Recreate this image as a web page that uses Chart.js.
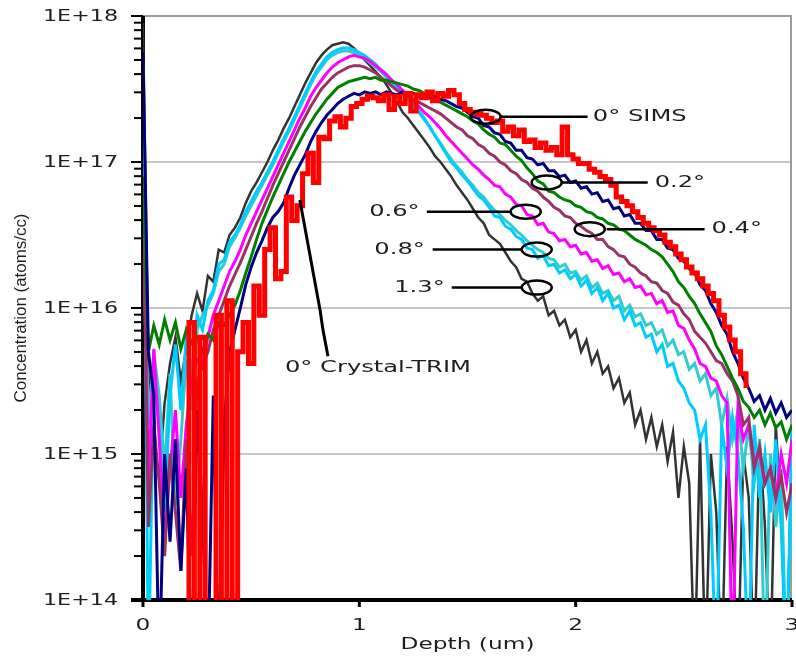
<!DOCTYPE html>
<html>
<head>
<meta charset="utf-8">
<title>Concentration profiles vs tilt angle</title>
<script src="https://cdn.jsdelivr.net/npm/chart.js@4.4.1/dist/chart.umd.min.js"></script>
<style>
  html, body { margin: 0; padding: 0; background: #fff; }
  #wrap { width: 796px; height: 658px; }
</style>
</head>
<body>
<div id="wrap"><canvas id="chart" width="796" height="658"></canvas></div>
<script>
// depth grid (um)
const depth = [
  0, 0.025, 0.05, 0.075, 0.1, 0.125, 0.15, 0.175, 0.2, 0.225,
  0.25, 0.275, 0.3, 0.325, 0.35, 0.375, 0.4, 0.425, 0.45, 0.475,
  0.5, 0.525, 0.55, 0.575, 0.6, 0.625, 0.65, 0.675, 0.7, 0.725,
  0.75, 0.775, 0.8, 0.825, 0.85, 0.875, 0.9, 0.925, 0.95, 0.975,
  1, 1.025, 1.05, 1.075, 1.1, 1.125, 1.15, 1.175, 1.2, 1.225,
  1.25, 1.275, 1.3, 1.325, 1.35, 1.375, 1.4, 1.425, 1.45, 1.475,
  1.5, 1.525, 1.55, 1.575, 1.6, 1.625, 1.65, 1.675, 1.7, 1.725,
  1.75, 1.775, 1.8, 1.825, 1.85, 1.875, 1.9, 1.925, 1.95, 1.975,
  2, 2.025, 2.05, 2.075, 2.1, 2.125, 2.15, 2.175, 2.2, 2.225,
  2.25, 2.275, 2.3, 2.325, 2.35, 2.375, 2.4, 2.425, 2.45, 2.475,
  2.5, 2.525, 2.55, 2.575, 2.6, 2.625, 2.65, 2.675, 2.7, 2.725,
  2.75, 2.775, 2.8, 2.825, 2.85, 2.875, 2.9, 2.925, 2.95, 2.975,
  3
];

// log10 of concentration (atoms/cc), null = no data
const sims0 = [
  null, null, null, null, null, null, null, null, 13.0, 15.90,
  13.0, 15.80, 13.0, 13.0, 15.95, 13.0, 16.05, 13.0, 15.70, 15.90,
  15.62, 16.15, 15.95, 16.40, 16.55, 16.20, 16.25, 16.76, 16.60, 16.70,
  16.92, 17.06, 16.86, 17.17, 17.16, 17.28, 17.31, 17.24, 17.30, 17.38,
  17.40, 17.43, 17.45, 17.44, 17.42, 17.46, 17.36, 17.45, 17.40, 17.47,
  17.35, 17.46, 17.44, 17.48, 17.42, 17.47, 17.45, 17.49, 17.46, 17.40,
  17.36, 17.34, 17.33, 17.32, 17.30, 17.27, 17.28, 17.21, 17.24, 17.18,
  17.22, 17.14, 17.15, 17.10, 17.13, 17.08, 17.10, 17.05, 17.24, 17.05,
  17.02, 16.99, 16.99, 16.95, 16.93, 16.90, 16.88, 16.84, 16.76, 16.73,
  16.70, 16.66, 16.62, 16.58, 16.55, 16.53, 16.50, 16.45, 16.42, 16.37,
  16.33, 16.28, 16.24, 16.20, 16.15, 16.10, 16.05, 15.95, 15.87, 15.78,
  15.70, 15.55, 15.47, null, null, null, null, null, null, null,
  null
];
const trim0 = [
  17.75, 15.70, 15.40, 13.5, 15.00, 14.40, 15.10, 14.20, 14.90, 13.5,
  15.30, 14.60, 13.5, 15.40, 13.5, 15.20, 15.70, 15.85, 16.00, 16.16,
  16.28, 16.38, 16.46, 16.55, 16.62, 16.66, 16.72, 16.82, 16.91, 16.98,
  17.05, 17.14, 17.21, 17.27, 17.32, 17.36, 17.40, 17.43, 17.45, 17.47,
  17.46, 17.48, 17.47, 17.48, 17.46, 17.48, 17.47, 17.46, 17.48, 17.46,
  17.47, 17.45, 17.46, 17.44, 17.45, 17.43, 17.42, 17.40, 17.38, 17.37,
  17.34, 17.31, 17.30, 17.25, 17.24, 17.20, 17.19, 17.14, 17.13, 17.08,
  17.08, 17.03, 17.02, 16.98, 16.99, 16.94, 16.94, 16.90, 16.91, 16.86,
  16.87, 16.82, 16.83, 16.78, 16.79, 16.73, 16.74, 16.68, 16.69, 16.63,
  16.64, 16.58, 16.58, 16.53, 16.53, 16.47, 16.47, 16.41, 16.40, 16.34,
  16.32, 16.27, 16.24, 16.16, 16.12, 16.03, 15.97, 15.88, 15.82, 15.70,
  15.62, 15.52, 15.45, 15.36, 15.40, 15.30, 15.38, 15.28, 15.35, 15.25,
  15.30
];
const deg02 = [
  16.90, 15.70, 15.88, 15.75, 15.92, 15.78, 15.90, 15.72, 15.85, 15.76,
  15.80, 15.70, 15.82, 15.78, 15.90, 15.88, 15.95, 16.02, 16.12, 16.24,
  16.35, 16.47, 16.58, 16.67, 16.76, 16.84, 16.92, 17.00, 17.07, 17.14,
  17.21, 17.27, 17.33, 17.38, 17.43, 17.47, 17.51, 17.53, 17.55, 17.56,
  17.57, 17.58, 17.57, 17.58, 17.56, 17.56, 17.55, 17.54, 17.53, 17.52,
  17.50, 17.49, 17.47, 17.46, 17.43, 17.41, 17.39, 17.37, 17.35, 17.33,
  17.31, 17.28, 17.26, 17.22, 17.19, 17.17, 17.13, 17.12, 17.08, 17.04,
  17.01, 16.96, 16.92, 16.87, 16.85, 16.80, 16.79, 16.76, 16.74, 16.73,
  16.70, 16.69, 16.66, 16.65, 16.62, 16.61, 16.58, 16.57, 16.54, 16.53,
  16.50, 16.47, 16.45, 16.43, 16.40, 16.38, 16.35, 16.30, 16.25, 16.18,
  16.14, 16.08, 16.03, 15.96, 15.90, 15.84, 15.74, 15.68, 15.60, 15.52,
  15.45, 15.36, 15.32, 15.25, 15.30, 15.20, 15.28, 15.18, 15.22, 15.10,
  15.20
];
const deg04 = [
  16.90, 14.50, 15.20, 14.80, 14.30, 15.00, 14.60, 14.20, 15.10, 14.30,
  15.50, 15.60, 15.70, 15.85, 15.95, 16.05, 16.15, 16.23, 16.31, 16.40,
  16.49, 16.58, 16.66, 16.75, 16.84, 16.92, 17.00, 17.08, 17.16, 17.24,
  17.31, 17.38, 17.44, 17.50, 17.54, 17.58, 17.61, 17.63, 17.65, 17.66,
  17.66, 17.65, 17.63, 17.61, 17.58, 17.55, 17.52, 17.49, 17.47, 17.45,
  17.43, 17.41, 17.39, 17.37, 17.35, 17.33, 17.30, 17.27, 17.24, 17.22,
  17.18, 17.16, 17.12, 17.10, 17.06, 17.04, 17.00, 16.98, 16.94, 16.92,
  16.88, 16.86, 16.82, 16.80, 16.76, 16.73, 16.69, 16.67, 16.63, 16.62,
  16.58, 16.56, 16.53, 16.51, 16.47, 16.47, 16.42, 16.40, 16.36, 16.35,
  16.30, 16.28, 16.24, 16.22, 16.18, 16.17, 16.12, 16.10, 16.04, 16.02,
  15.96, 15.92, 15.84, 15.80, 15.76, 15.70, 15.64, 15.62, 15.55, 15.50,
  15.40, 15.20, 15.25, 14.90, 15.05, 14.80, 14.90, 14.70, 14.85, 14.60,
  14.80
];
const deg06 = [
  16.80, 14.80, 15.72, 15.10, 14.40, 14.90, 15.30, 14.70, 15.20, 15.50,
  15.65, 15.62, 15.80, 15.95, 16.05, 16.15, 16.25, 16.32, 16.40, 16.50,
  16.58, 16.66, 16.74, 16.82, 16.90, 16.98, 17.06, 17.14, 17.22, 17.30,
  17.37, 17.45, 17.51, 17.56, 17.61, 17.65, 17.68, 17.70, 17.72, 17.73,
  17.72, 17.71, 17.69, 17.66, 17.63, 17.60, 17.56, 17.53, 17.49, 17.46,
  17.42, 17.38, 17.34, 17.31, 17.27, 17.23, 17.18, 17.14, 17.10, 17.06,
  17.02, 16.98, 16.95, 16.91, 16.88, 16.84, 16.83, 16.78, 16.76, 16.71,
  16.70, 16.64, 16.63, 16.57, 16.58, 16.52, 16.51, 16.46, 16.47, 16.42,
  16.43, 16.37, 16.38, 16.32, 16.33, 16.27, 16.29, 16.23, 16.24, 16.18,
  16.20, 16.14, 16.15, 16.09, 16.10, 16.03, 16.05, 15.97, 15.98, 15.88,
  15.86, 15.78, 15.72, 15.62, 15.60, 15.52, 15.50, 15.40, 15.35, 13.50,
  15.30, 15.10, 15.20, 14.95, 15.00, 14.80, 14.90, 14.70, 15.00, 14.80,
  15.10
];
const deg08 = [
  17.65, 13.50, 15.55, 15.20, 14.60, 15.40, 15.75, 15.30, 15.80, 15.55,
  15.95, 15.85, 16.05, 16.12, 16.30, 16.33, 16.45, 16.50, 16.57, 16.66,
  16.73, 16.80, 16.86, 16.93, 17.00, 17.08, 17.16, 17.23, 17.31, 17.39,
  17.47, 17.55, 17.62, 17.67, 17.72, 17.75, 17.77, 17.78, 17.78, 17.77,
  17.75, 17.73, 17.70, 17.67, 17.63, 17.59, 17.55, 17.51, 17.48, 17.44,
  17.40, 17.35, 17.30, 17.24, 17.18, 17.12, 17.06, 17.00, 16.96, 16.91,
  16.87, 16.82, 16.77, 16.74, 16.69, 16.63, 16.62, 16.56, 16.54, 16.49,
  16.47, 16.41, 16.40, 16.34, 16.36, 16.29, 16.30, 16.24, 16.26, 16.20,
  16.23, 16.15, 16.19, 16.10, 16.14, 16.05, 16.10, 16.00, 16.02, 15.92,
  15.98, 15.88, 15.90, 15.80, 15.82, 15.70, 15.75, 15.60, 15.62, 15.50,
  15.45, 15.35, 15.30, 15.10, 15.20, 14.60, 13.50, 15.20, 14.90, 15.25,
  15.00, 14.50, 13.50, 15.20, 14.70, 15.00, 14.60, 15.10, 14.50, 13.50,
  15.20
];
const tealSeries = [
  16.95, 15.20, 15.70, 15.40, 14.90, 15.55, 14.65, 15.10, 15.65, 15.30,
  15.85, 15.95, 16.02, 16.10, 16.25, 16.30, 16.42, 16.48, 16.55, 16.63,
  16.70, 16.77, 16.84, 16.91, 16.98, 17.06, 17.14, 17.21, 17.29, 17.37,
  17.45, 17.53, 17.60, 17.65, 17.70, 17.73, 17.75, 17.76, 17.76, 17.75,
  17.73, 17.71, 17.68, 17.65, 17.62, 17.58, 17.54, 17.50, 17.47, 17.43,
  17.39, 17.34, 17.29, 17.24, 17.18, 17.13, 17.07, 17.02, 16.97, 16.93,
  16.88, 16.84, 16.79, 16.76, 16.71, 16.67, 16.64, 16.60, 16.57, 16.53,
  16.50, 16.46, 16.43, 16.40, 16.38, 16.34, 16.33, 16.28, 16.30, 16.24,
  16.25, 16.19, 16.22, 16.14, 16.17, 16.10, 16.12, 16.05, 16.08, 15.98,
  16.02, 15.94, 15.96, 15.88, 15.90, 15.82, 15.85, 15.74, 15.78, 15.68,
  15.70, 15.58, 15.62, 15.50, 15.55, 15.40, 15.45, 15.20, 15.38, 15.10,
  15.30, 14.90, 15.20, 14.80, 15.10, 13.50, 15.00, 14.50, 14.90, 13.50,
  14.95
];
const deg13 = [
  17.95, 15.55, 15.05, 14.85, 15.35, 15.62, 15.80, 15.50, 15.72, 15.95,
  16.10, 15.98, 16.22, 16.18, 16.40, 16.38, 16.50, 16.55, 16.62, 16.72,
  16.80, 16.86, 16.93, 17.00, 17.08, 17.15, 17.23, 17.30, 17.38, 17.46,
  17.54, 17.61, 17.68, 17.73, 17.77, 17.80, 17.81, 17.82, 17.81, 17.78,
  17.74, 17.70, 17.66, 17.62, 17.58, 17.53, 17.47, 17.41, 17.34, 17.30,
  17.25, 17.20, 17.15, 17.10, 17.04, 17.00, 16.95, 16.90, 16.84, 16.79,
  16.74, 16.68, 16.62, 16.58, 16.50, 16.47, 16.44, 16.38, 16.32, 16.28,
  16.20, 16.18, 16.10, 16.05, 16.08, 15.95, 15.98, 15.88, 15.92, 15.80,
  15.85, 15.70, 15.78, 15.62, 15.70, 15.55, 15.60, 15.45, 15.52, 15.35,
  15.42, 15.20, 15.30, 15.10, 15.25, 15.05, 15.20, 14.95, 15.15, 14.70,
  15.05, 14.80, 13.50, 15.10, 13.50, 15.00, 14.60, 13.50, 15.05, 14.40,
  13.50, 15.00, 14.70, 13.50, 15.10, 14.50, 13.50, 15.20, 14.60, 13.50,
  15.15
];

const yTickValues = [1e14, 1e15, 1e16, 1e17, 1e18];
const yTickLabels = ['1E+14', '1E+15', '1E+16', '1E+17', '1E+18'];
const minorMantissas = [2, 3, 4, 5, 6, 7, 8, 9];
const gridValues = [1e15, 1e16, 1e17];
const xTickValues = [0, 1, 2, 3];
const xTickLabels = ['0', '1', '2', '3'];

// callouts in data units: ellipse centre (depth, log10 conc), leader from/to depth, text depth
const callouts = [
  { text: '0° SIMS', ex: 1.584, ey: 17.31, x1: 1.649, x2: 2.055, tx: 2.079, align: 'left' },
  { text: '0.2°', ex: 1.866, ey: 16.86, x1: 1.935, x2: 2.333, tx: 2.365, align: 'left' },
  { text: '0.4°', ex: 2.065, ey: 16.54, x1: 2.143, x2: 2.596, tx: 2.628, align: 'left' },
  { text: '0.6°', ex: 1.769, ey: 16.66, x1: 1.700, x2: 1.312, tx: 1.279, align: 'right' },
  { text: '0.8°', ex: 1.820, ey: 16.40, x1: 1.751, x2: 1.339, tx: 1.303, align: 'right' },
  { text: '1.3°', ex: 1.820, ey: 16.14, x1: 1.751, x2: 1.427, tx: 1.395, align: 'right' }
];
const trimLeaderDepth = [0.725, 0.818, 0.832, 0.855];
const trimLeaderLog = [16.74, 15.99, 15.85, 15.67];
const trimLabel = { text: '0° Crystal-TRIM', x: 0.656, y: 15.589 };

const toPoints = vals => depth.map((d, i) => ({ x: d, y: vals[i] == null ? null : Math.pow(10, vals[i]) }));

const series = [
  { label: '0° SIMS', vals: sims0, color: '#ff0000', width: 5, stepped: 'middle' },
  { label: '0° (navy)', vals: trim0, color: '#000080', width: 3 },
  { label: '0.2°', vals: deg02, color: '#008000', width: 3 },
  { label: '0.4°', vals: deg04, color: '#993366', width: 3 },
  { label: '0.6°', vals: deg06, color: '#ff00ff', width: 3 },
  { label: '0.8°', vals: deg08, color: '#00ccff', width: 3 },
  { label: 'teal', vals: tealSeries, color: '#33cccc', width: 3 },
  { label: '1.3°', vals: deg13, color: '#333333', width: 2.5 }
];

const TEXT_COLOR = '#1e1e1e';
const LABEL_FONT = '16px "DejaVu Sans"';
const TICK_FONT = '15px "DejaVu Sans"';

function wideText(ctx, text, x, y, align, font, sx) {
  ctx.save();
  ctx.font = font;
  ctx.fillStyle = TEXT_COLOR;
  ctx.textAlign = align;
  ctx.textBaseline = 'middle';
  ctx.translate(x, y);
  ctx.scale(sx, 1);
  ctx.fillText(text, 0, 0);
  ctx.restore();
}

// horizontal stretch so that a sample string gets the width it has in the picture
function fitStretch(ctx, font, sample, width) {
  ctx.save();
  ctx.font = font;
  const w = ctx.measureText(sample).width;
  ctx.restore();
  return width / w;
}

function seg(ctx, x1, y1, x2, y2) {
  ctx.beginPath();
  ctx.moveTo(x1, y1);
  ctx.lineTo(x2, y2);
  ctx.stroke();
}

const framePlugin = {
  id: 'framePlugin',
  beforeDatasetsDraw(chart) {
    const { ctx, chartArea: a, scales: { x, y } } = chart;
    ctx.save();
    // horizontal gridlines
    ctx.strokeStyle = '#c6c6c6';
    ctx.lineWidth = 2;
    gridValues.forEach(v => {
      const py = Math.round(y.getPixelForValue(v));
      seg(ctx, a.left, py, a.right, py);
    });
    // grey frame top / right
    ctx.strokeStyle = '#9c9c9c';
    ctx.beginPath();
    ctx.moveTo(a.left, a.top);
    ctx.lineTo(a.right - 1, a.top);
    ctx.lineTo(a.right - 1, a.bottom);
    ctx.stroke();
    // y ticks
    ctx.strokeStyle = '#000';
    ctx.lineWidth = 2;
    yTickValues.forEach((v, i) => {
      const py = y.getPixelForValue(v);
      seg(ctx, a.left - 12, py, a.left, py);
      if (i < yTickValues.length - 1) {
        minorMantissas.forEach(m => {
          const pm = y.getPixelForValue(v * m);
          seg(ctx, a.left - 9, pm, a.left, pm);
        });
      }
    });
    // axis lines
    ctx.lineWidth = 4;
    seg(ctx, a.left, a.top, a.left, a.bottom + 2);
    seg(ctx, a.left - 12, a.bottom, a.right, a.bottom);
    ctx.lineWidth = 3;
    xTickValues.forEach(v => {
      const px = x.getPixelForValue(v);
      seg(ctx, px, a.bottom, px, a.bottom + 7);
    });
    ctx.restore();
  },
  afterDatasetsDraw(chart) {
    const { ctx, scales: { x, y } } = chart;
    const sx = fitStretch(ctx, LABEL_FONT, '0° Crystal-TRIM', 186);
    ctx.save();
    ctx.strokeStyle = '#000';
    ctx.lineWidth = 2.5;
    callouts.forEach(c => {
      const cx = x.getPixelForValue(c.ex);
      const cy = y.getPixelForValue(Math.pow(10, c.ey));
      ctx.beginPath();
      ctx.ellipse(cx, cy, 15, 7, 0, 0, Math.PI * 2);
      ctx.stroke();
      seg(ctx, x.getPixelForValue(c.x1), cy, x.getPixelForValue(c.x2), cy);
      wideText(ctx, c.text, x.getPixelForValue(c.tx), cy, c.align, LABEL_FONT, sx);
    });
    ctx.lineWidth = 3;
    ctx.beginPath();
    trimLeaderDepth.forEach((d, i) => {
      const px = x.getPixelForValue(d);
      const py = y.getPixelForValue(Math.pow(10, trimLeaderLog[i]));
      if (i === 0) ctx.moveTo(px, py); else ctx.lineTo(px, py);
    });
    ctx.stroke();
    wideText(ctx, trimLabel.text, x.getPixelForValue(trimLabel.x), y.getPixelForValue(Math.pow(10, trimLabel.y)), 'left', LABEL_FONT, sx);
    ctx.restore();
  },
  afterDraw(chart) {
    const { ctx, chartArea: a, scales: { x, y } } = chart;
    const sy = fitStretch(ctx, TICK_FONT, '1E+18', 75);
    const sxx = fitStretch(ctx, TICK_FONT, 'Depth (um)', 134);
    yTickValues.forEach((v, i) => {
      wideText(ctx, yTickLabels[i], 118, y.getPixelForValue(v) + 1, 'right', TICK_FONT, sy);
    });
    xTickValues.forEach((v, i) => {
      wideText(ctx, xTickLabels[i], x.getPixelForValue(v), 626, 'center', TICK_FONT, sxx);
    });
    wideText(ctx, 'Depth (um)', (a.left + a.right) / 2, 645, 'center', TICK_FONT, sxx);
    // rotated y title, narrow font
    ctx.save();
    ctx.font = '17px "Liberation Sans Narrow", "Liberation Sans", sans-serif';
    ctx.fillStyle = TEXT_COLOR;
    ctx.textAlign = 'center';
    ctx.textBaseline = 'middle';
    const title = 'Concentration (atoms/cc)';
    const w = ctx.measureText(title).width;
    ctx.translate(21, 308);
    ctx.rotate(-Math.PI / 2);
    ctx.scale(189 / w, 1);
    ctx.fillText(title, 0, 0);
    ctx.restore();
  }
};

new Chart(document.getElementById('chart'), {
  type: 'line',
  data: {
    datasets: series.map(s => ({
      label: s.label,
      data: toPoints(s.vals),
      borderColor: s.color,
      backgroundColor: s.color,
      borderWidth: s.width,
      stepped: s.stepped || false,
      pointRadius: 0,
      tension: 0,
      fill: false
    }))
  },
  options: {
    responsive: false,
    animation: false,
    events: [],
    layout: { padding: { left: 0, right: 4, top: 16, bottom: 0 }, autoPadding: false },
    plugins: { legend: { display: false }, tooltip: { enabled: false } },
    scales: {
      x: {
        type: 'linear', min: 0, max: 3,
        grid: { display: false }, border: { display: false },
        ticks: { display: false },
        afterFit: s => { s.height = 58; }
      },
      y: {
        type: 'logarithmic', min: 1e14, max: 1e18,
        grid: { display: false }, border: { display: false },
        ticks: { display: false },
        afterFit: s => { s.width = 143; }
      }
    }
  },
  plugins: [framePlugin]
});
</script>
</body>
</html>
